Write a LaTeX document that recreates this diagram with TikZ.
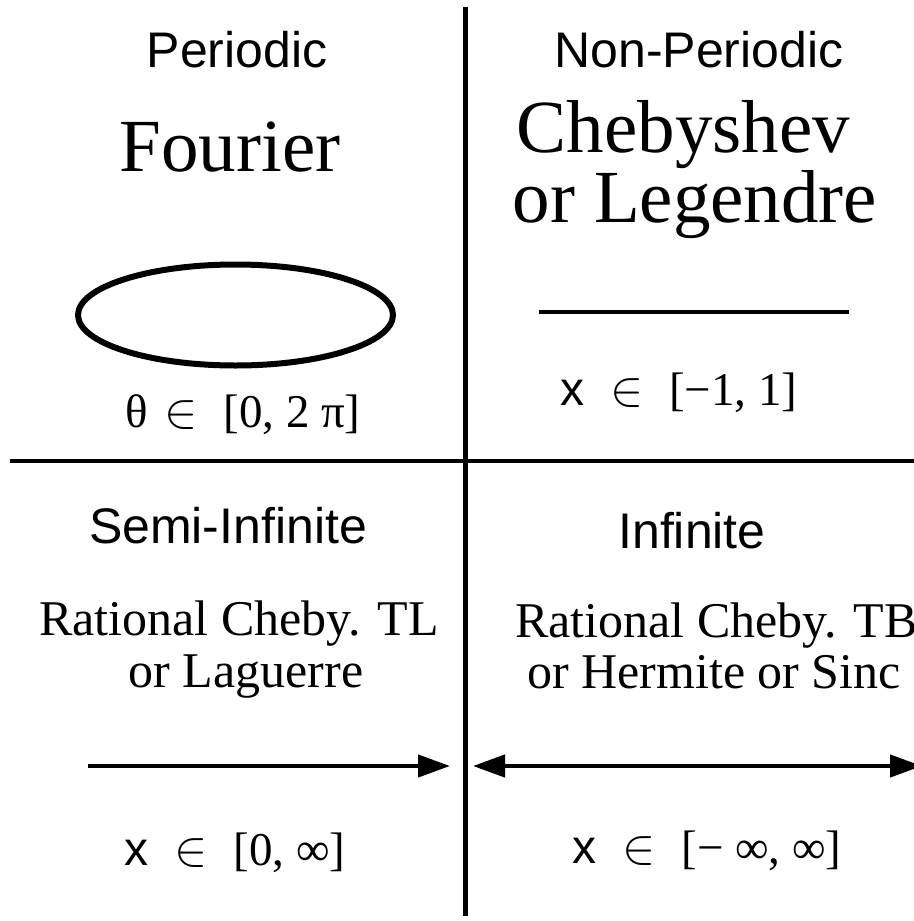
\documentclass[tikz,border=0pt]{standalone}
\usepackage{fontspec}
\setmainfont{Liberation Serif}
\setsansfont{Liberation Sans}
\usepackage{tikz}
\usetikzlibrary{arrows.meta}

\newcommand{\headfont}{\sffamily\fontsize{25}{30}\selectfont}
\newcommand{\bigname}{\rmfamily\fontsize{37.5}{40}\selectfont}
\newcommand{\smallname}{\rmfamily\fontsize{25}{28}\selectfont}
\newcommand{\rangefont}{\rmfamily\fontsize{23.5}{26}\selectfont}
\newcommand{\domain}[1]{{\sffamily\fontsize{24}{26}\selectfont x}\hspace{0.55em}$\in$\hspace{0.55em}#1}

\begin{document}
\begin{tikzpicture}[x=0.5pt, y=-0.5pt, >={Triangle[length=16pt, width=11pt]},
  headtxt/.style={anchor=base, inner sep=0pt, font=\headfont},
  basistxt/.style={anchor=base, inner sep=0pt, font=\bigname},
  subtxt/.style={anchor=base, inner sep=0pt, font=\smallname},
  rangetxt/.style={anchor=base, inner sep=0pt, font=\rangefont}]
  \useasboundingbox (0,0) rectangle (914,921);

  % quadrant dividers
  \draw[line width=2.5pt] (465,7) -- (465,916);
  \draw[line width=2.2pt] (10,461) -- (914,461);

  % periodic
  \node[headtxt] (per) at (237,67) {Periodic};
  \node[basistxt] (fou) at (230,171) {Fourier};
  \draw[line width=3pt] (235.5,315) ellipse [x radius=157.5, y radius=50.5];
  \node[rangetxt] (theta) at (243,427) {θ\hspace{0.35em}$\in$\hspace{0.55em}[0, 2 π]};

  % non-periodic
  \node[headtxt] (nonper) at (699,68) {Non-Periodic};
  \node[basistxt] (cheb) at (683.5,152) {Chebyshev};
  \node[basistxt] (leg) at (695,222) {or Legendre};
  \coordinate (segl) at (539,312);
  \coordinate (segr) at (849,312);
  \draw[line width=2.2pt] (segl) -- (segr);
  \node[rangetxt] (xcheb) at (679,405) {\domain{[−1, 1]}};

  % semi-infinite
  \node[headtxt] (semi) at (228,543) {Semi-Infinite};
  \node[subtxt] (tl) at (239,635) {Rational Cheby. TL};
  \node[subtxt] (lag) at (246,687) {or Laguerre};
  \coordinate (semil) at (88,766);
  \coordinate (semir) at (450,766);
  \draw[->, line width=2.2pt] (semil) -- (semir);
  \node[rangetxt] (xsemi) at (235,865) {\domain{[0, ∞]}};

  % infinite
  \node[headtxt] (inf) at (692,548) {Infinite};
  \node[subtxt, anchor=base west] (tb) at (515,637) {Rational Cheby. TB};
  \node[subtxt] (her) at (714,688) {or Hermite or Sinc};
  \coordinate (infl) at (473,766);
  \coordinate (infr) at (922,766);
  \draw[<->, line width=2.2pt] (infl) -- (infr);
  \node[rangetxt] (xinf) at (707,863) {\domain{[− ∞, ∞]}};
\end{tikzpicture}
\end{document}
